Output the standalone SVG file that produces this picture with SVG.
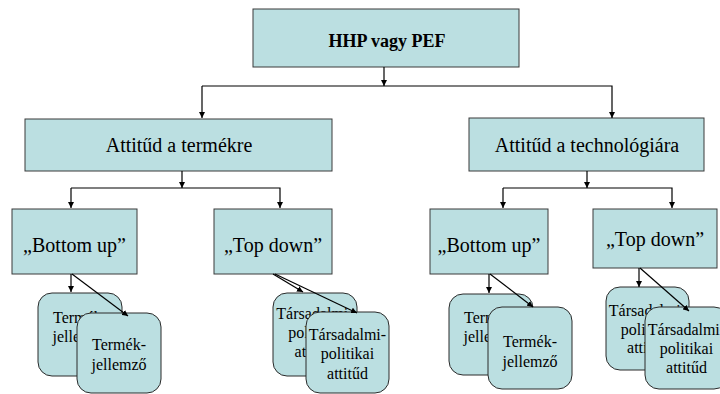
<svg xmlns="http://www.w3.org/2000/svg" width="720" height="394" viewBox="0 0 720 394">
<defs>
<style>
.box{fill:#BBDFE1;stroke:#3a3a3a;stroke-width:1}
.rbox{fill:#BBDFE1;stroke:#2a2a2a;stroke-width:1}
.t{font-family:'Liberation Serif','DejaVu Serif',serif;fill:#000;text-anchor:middle}
.h{font-size:18px;font-weight:bold}
.m{font-size:20px}
.s{font-size:16px}
.c{fill:none;stroke:#000;stroke-width:1.2}
</style>
<marker id="ah" viewBox="0 0 10 10" refX="10" refY="5" markerWidth="6" markerHeight="6" markerUnits="userSpaceOnUse" orient="auto">
<path d="M0,0 L10,5 L0,10 z" fill="#000"/>
</marker>
</defs>
<rect width="720" height="394" fill="#fff"/>

<g id="root">
<rect class="box" x="253" y="9" width="266" height="58"/>
<text class="t h" x="387" y="47" font-family="Liberation Serif, serif">HHP vagy  PEF</text>
</g>

<g id="termek">
<rect class="box" x="25" y="119" width="307" height="52"/>
<text class="t m" x="179" y="152">Attitűd a termékre</text>
</g>
<g id="technologia">
<rect class="box" x="469" y="118" width="235" height="53"/>
<text class="t m" x="587" y="152">Attitűd a technológiára</text>
</g>

<g id="bu1">
<rect class="box" x="12" y="209" width="125" height="65"/>
<text class="t m" x="74.5" y="252">„Bottom up”</text>
</g>
<g id="td1">
<rect class="box" x="214" y="209" width="118" height="65"/>
<text class="t m" x="273" y="252">„Top down”</text>
</g>
<g id="bu2">
<rect class="box" x="430" y="209" width="118" height="65"/>
<text class="t m" x="489" y="252">„Bottom up”</text>
</g>
<g id="td2">
<rect class="box" x="593" y="209" width="124" height="59"/>
<text class="t m" x="655" y="246">„Top down”</text>
</g>

<g id="bu1a">
<rect class="rbox" x="38" y="293" width="84" height="83" rx="14"/>
<text class="t s" x="80" y="323">Termék-</text>
<text class="t s" x="80" y="342">jellemző</text>
</g>
<g id="bu1b">
<rect class="rbox" x="77" y="313" width="84" height="80" rx="14"/>
<text class="t s" x="119" y="350">Termék-</text>
<text class="t s" x="119" y="370">jellemző</text>
</g>

<g id="td1a">
<rect class="rbox" x="273" y="293" width="84" height="83" rx="14"/>
<text class="t s" x="315" y="319">Társadalmi-</text>
<text class="t s" x="315" y="338">politikai</text>
<text class="t s" x="315" y="357">attitűd</text>
</g>
<g id="td1b">
<rect class="rbox" x="306" y="312" width="83" height="81" rx="14"/>
<text class="t s" x="347.5" y="340">Társadalmi-</text>
<text class="t s" x="347.5" y="359">politikai</text>
<text class="t s" x="347.5" y="379">attitűd</text>
</g>

<g id="bu2a">
<rect class="rbox" x="449" y="294" width="84" height="81" rx="14"/>
<text class="t s" x="491" y="323">Termék-</text>
<text class="t s" x="491" y="342">jellemző</text>
</g>
<g id="bu2b">
<rect class="rbox" x="488" y="307" width="84" height="82" rx="14"/>
<text class="t s" x="530" y="347">Termék-</text>
<text class="t s" x="530" y="367">jellemző</text>
</g>

<g id="td2a">
<rect class="rbox" x="606" y="287" width="83" height="83" rx="14"/>
<text class="t s" x="647.5" y="316">Társadalmi-</text>
<text class="t s" x="647.5" y="335">politikai</text>
<text class="t s" x="647.5" y="353">attitűd</text>
</g>
<g id="td2b">
<rect class="rbox" x="645" y="307" width="83" height="82" rx="14"/>
<text class="t s" x="686.5" y="335">Társadalmi-</text>
<text class="t s" x="686.5" y="354">politikai</text>
<text class="t s" x="686.5" y="373">attitűd</text>
</g>

<g id="connectors">
<line class="c" x1="384" y1="67" x2="384" y2="86" marker-end="url(#ah)"/>
<polyline class="c" points="202,86 612,86 612,118" marker-end="url(#ah)"/>
<line class="c" x1="202" y1="86" x2="202" y2="118" marker-end="url(#ah)"/>

<line class="c" x1="182" y1="171" x2="182" y2="188" marker-end="url(#ah)"/>
<polyline class="c" points="71,188 280,188 280,208" marker-end="url(#ah)"/>
<line class="c" x1="71" y1="188" x2="71" y2="208" marker-end="url(#ah)"/>

<line class="c" x1="587" y1="171" x2="587" y2="188" marker-end="url(#ah)"/>
<polyline class="c" points="503,188 672,188 672,208" marker-end="url(#ah)"/>
<line class="c" x1="503" y1="188" x2="503" y2="208" marker-end="url(#ah)"/>

<line class="c" x1="71" y1="274" x2="71" y2="292" marker-end="url(#ah)"/>
<line class="c" x1="72" y1="274" x2="128" y2="316" marker-end="url(#ah)"/>

<line class="c" x1="273" y1="274" x2="303" y2="292" marker-end="url(#ah)"/>
<line class="c" x1="275" y1="274" x2="357" y2="313" marker-end="url(#ah)"/>

<line class="c" x1="489" y1="274" x2="489" y2="293" marker-end="url(#ah)"/>
<line class="c" x1="490" y1="274" x2="533" y2="307" marker-end="url(#ah)"/>

<line class="c" x1="639" y1="268" x2="639" y2="287" marker-end="url(#ah)"/>
<line class="c" x1="640" y1="268" x2="689" y2="311" marker-end="url(#ah)"/>
</g>
</svg>
